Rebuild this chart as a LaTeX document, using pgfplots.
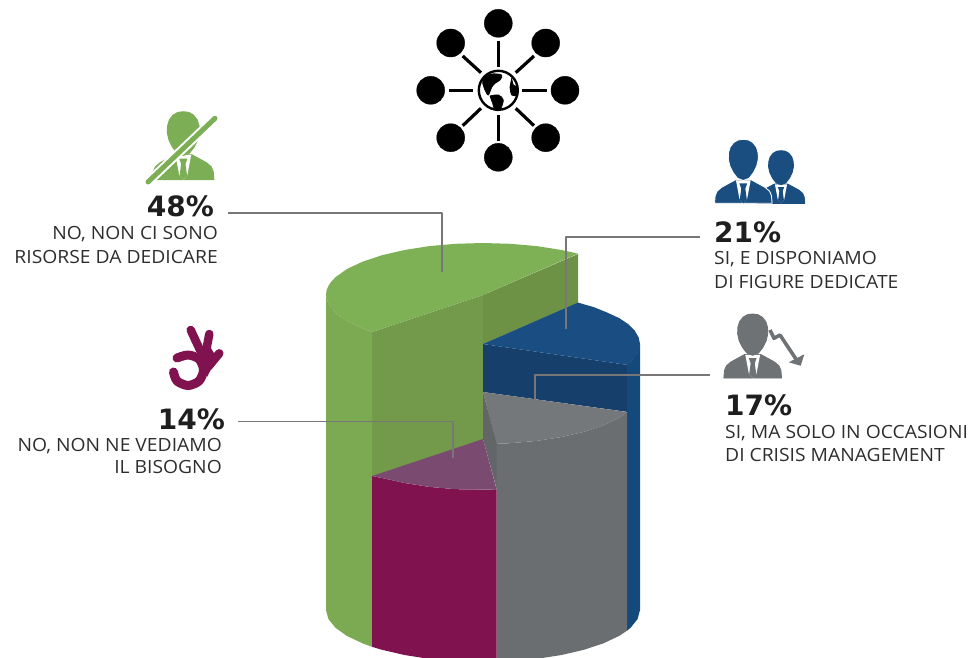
\documentclass[border=0pt]{standalone}
\usepackage{pgfplots}
\usepackage{pgfplotstable}
\usepackage{fontspec}
\setmainfont[FakeStretch=1.06]{Open Sans}
\newfontfamily\pctfont{DejaVu Sans}
\pgfplotsset{compat=1.18}

\definecolor{gtop}{HTML}{7EB055}
\definecolor{gouter}{HTML}{7BAA53}
\definecolor{ginnerA}{HTML}{739A4A}
\definecolor{ginnerB}{HTML}{6E9245}
\definecolor{btop}{HTML}{1A4D81}
\definecolor{bwall}{HTML}{173F6C}
\definecolor{bouter}{HTML}{13497B}
\definecolor{gytop}{HTML}{74787A}
\definecolor{gyfront}{HTML}{6A6E70}
\definecolor{gyside}{HTML}{626668}
\definecolor{ptop}{HTML}{7A4A70}
\definecolor{pfront}{HTML}{80134F}
\definecolor{leader}{HTML}{777777}
\definecolor{ink}{HTML}{2E2E2E}
\definecolor{pctink}{HTML}{1E1E1E}
\definecolor{iconblue}{HTML}{1B4E80}
\definecolor{icongray}{HTML}{6E7274}
\definecolor{icongreen}{HTML}{7CAE56}

% Person silhouette: head top at (0,0), feet of the bust at y=1, unit = height
\pgfplotstableread[row sep=\\]{
x y\\ 0 0\\ .08 .01\\ .15 .05\\ .205 .12\\ .232 .21\\ .235 .31\\ .21 .42\\ .16 .52\\ .09 .61\\ 0 .645\\
-.09 .61\\ -.16 .52\\ -.21 .42\\ -.235 .31\\ -.232 .21\\ -.205 .12\\ -.15 .05\\ -.08 .01\\
}\personhead
\pgfplotstableread[row sep=\\]{
x y\\ -.45 1\\ -.44 .88\\ -.41 .81\\ -.34 .75\\ -.13 .635\\ .13 .635\\ .34 .75\\ .41 .81\\ .44 .88\\ .45 1\\
}\personbody
\pgfplotstableread[row sep=\\]{
x y\\ -.115 .64\\ .115 .64\\ .06 .93\\ 0 1\\ -.06 .93\\
}\personshirt
\pgfplotstableread[row sep=\\]{
x y\\ -.06 .69\\ .06 .69\\ .032 .77\\ .055 .94\\ 0 1\\ -.055 .94\\ -.032 .77\\
}\persontie

% #1 centre x, #2 top y, #3 height, #4 colour, #5 body outline colour
\newcommand{\person}[5]{%
  \addplot[fill=#4,draw=#5,line width=0.9pt] table[x expr=\thisrow{x}*#3+#1,y expr=\thisrow{y}*#3+#2]{\personbody} -- cycle;
  \addplot[fill=white,draw=none] table[x expr=\thisrow{x}*#3+#1,y expr=\thisrow{y}*#3+#2]{\personshirt} -- cycle;
  \addplot[fill=#4,draw=none] table[x expr=\thisrow{x}*#3+#1,y expr=\thisrow{y}*#3+#2]{\persontie} -- cycle;
  \addplot[fill=#4,draw=#5,line width=0.9pt] table[x expr=\thisrow{x}*#3+#1,y expr=\thisrow{y}*#3+#2]{\personhead} -- cycle;
}
\newcommand{\pct}[1]{\pctfont\fontsize{28}{32}\selectfont\bfseries #1}
\newcommand{\capt}[1]{\fontsize{18.2}{22}\selectfont #1}

\begin{document}
\begin{tikzpicture}
\useasboundingbox (0,0) rectangle (970pt,658pt);
\begin{axis}[
  at={(0,0)}, anchor=south west,
  scale only axis, width=970pt, height=658pt,
  xmin=0, xmax=970, ymin=0, ymax=658, y dir=reverse,
  hide axis, clip=true, clip mode=individual,
  every axis plot/.append style={line join=round},
]
% ---- cylinder, back to front ----
% green wedge: inner walls, outer wall, top
\addplot[fill=ginnerA,draw=none] coordinates {(372,332)(483,295)(483,441)(372,477)} -- cycle;
\addplot[fill=ginnerB,draw=none] coordinates {(483,295)(578,254)(578,303)(483,344)} -- cycle;
\addplot[fill=gouter,draw=none] coordinates {(326,295)(328.4,304)(335.5,312.8)(347,321)(362.7,328.4)(372,332)
  (372,646.8)(362.7,643.4)(347,636)(335.5,627.8)(328.4,619)(326,610)} -- cycle;
\addplot[fill=gtop,draw=none] coordinates {(326,295)(326.6,290)(328.4,286)(331.4,281.5)(335.5,277.2)(347,269)(362.7,261.6)(382,255.2)
  (404.5,250)(429.3,246.1)(455.7,243.8)(483,243)(510.3,243.8)(536.7,246.1)(561.5,250)(578,253.6)
  (483,295)(372,332)(362.7,328.4)(347,321)(335.5,312.8)(328.4,304)} -- cycle;
% blue wedge
\addplot[fill=bwall,draw=none] coordinates {(483,344)(628,365)(628,412)(483,392)} -- cycle;
\addplot[fill=bouter,draw=none] coordinates {(627,364)(630.5,361.8)(637.6,353)(640,344)(640,610)(637.6,619)(630.5,627.8)(627,630.7)} -- cycle;
\addplot[fill=btop,draw=none] coordinates {(483,344)(578,302.6)(594,307.2)(607,312.5)(619,318)(628,324)(634.6,330.5)(638.8,337.7)(640,344)
  (639.4,349)(637.6,353)(634.6,357.5)(630.5,361.8)(628,365)} -- cycle;
% grey wedge
\addplot[fill=gyside,draw=none] coordinates {(483,392)(497,443)(497,490)(483,439)} -- cycle;
\addplot[fill=gyfront,draw=none] coordinates {(496.7,443.8)(510.3,443.2)(536.7,440.9)(561.5,437)(584,431.8)(603.3,425.4)(619,418)(627,412)
  (627,630.7)(619,636)(603.3,643.4)(584,649.8)(561.5,655)(536.7,658.9)(510.3,661.2)(496.7,661.8)} -- cycle;
\addplot[fill=gytop,draw=none] coordinates {(483,392)(627,412)(619,418)(603.3,425.4)(584,431.8)(561.5,437)(536.7,440.9)(510.3,443.2)(496.7,443.8)} -- cycle;
% purple wedge
\addplot[fill=pfront,draw=none] coordinates {(372,476)(382,478)(404.5,483)(429.3,486.9)(455.7,489.2)(496.7,489.8)
  (496.7,661.8)(455.7,661.2)(429.3,658.9)(404.5,655)(382,649.8)(372,646.8)} -- cycle;
\addplot[fill=ptop,draw=none] coordinates {(372,476)(483,439)(496.7,489.8)(455.7,489.2)(429.3,486.9)(404.5,483)(382,478)} -- cycle;

% ---- leader lines ----
\addplot[leader,line width=1.1pt] coordinates {(228,213)(442,213)(442,272)};
\addplot[leader,line width=1.1pt] coordinates {(700,237)(566,237)(566,329)};
\addplot[leader,line width=1.1pt] coordinates {(710,375)(535,375)(535,415)};
\addplot[leader,line width=1.1pt] coordinates {(238,421.5)(453,421.5)(453,458)};

% ---- network icon ----
\addplot[black,line width=3.2pt] coordinates {(498.3,40.7)(498.3,66.7)};
\addplot[black,line width=3.2pt] coordinates {(498.3,115)(498.3,140.7)};
\addplot[black,line width=3.2pt] coordinates {(449,90.3)(473.3,90.3)};
\addplot[black,line width=3.2pt] coordinates {(522.3,90.3)(547.3,90.3)};
\addplot[black,line width=3.2pt] coordinates {(515.7,72.7)(534,56)};
\addplot[black,line width=3.2pt] coordinates {(481,72.7)(462.7,56)};
\addplot[black,line width=3.2pt] coordinates {(515.7,108.3)(534,125.7)};
\addplot[black,line width=3.2pt] coordinates {(481,108.3)(462.7,125.7)};
\addplot[only marks,mark=*,mark size=14pt,mark options={fill=black,draw=none}] coordinates {
  (498.3,23.3)(498.3,157.3)(430.7,90.3)(565,90.3)(450.7,43)(545.7,43)(450.7,137.7)(545.7,137.7)};
\addplot[only marks,mark=o,mark size=19.5pt,mark options={draw=black,line width=2.4pt}] coordinates {(498.3,90.3)};
\addplot[fill=black,draw=black,line width=0.8pt,smooth] coordinates {(483.3,78.3)(491.7,74)(501.7,75)(500,80)(495,83.3)(491.7,87.3)(488.3,95)(485,90)(482.7,83.3)} -- cycle;
\addplot[fill=black,draw=black,line width=0.8pt,smooth] coordinates {(490,96)(498.3,95)(503.3,100)(500,110)(495,110)(492.7,103.3)} -- cycle;
\addplot[fill=black,draw=black,line width=0.8pt,smooth] coordinates {(511.7,78.3)(513.3,85)(517.3,87.3)(517.3,95)(511.7,95)(510,87)} -- cycle;

% ---- person icons ----
\person{183.3}{111.7}{68}{icongreen}{icongreen}
\addplot[white,line width=9pt] coordinates {(146.7,183.3)(215,118.3)};
\addplot[icongreen,line width=5pt,line cap=round] coordinates {(148,182)(215,118.3)};

\person{781}{150.7}{52.7}{iconblue}{iconblue}
\person{743.3}{139.3}{64}{iconblue}{white}

\person{752.7}{314}{64}{icongray}{icongray}
\addplot[icongray,line width=3.6pt] coordinates {(770,330)(774,338.3)(780,335)(797.3,361)};
\addplot[fill=icongray,draw=none] coordinates {(788.7,362.3)(804.3,354.3)(800.7,365.7)} -- cycle;

% ---- OK hand icon ----
\addplot[fill=pfront,draw=none] coordinates {(196,350)(209,345)(217,358)(207,377)(203,365)} -- cycle;
\addplot[pfront,line width=9pt,line cap=round,smooth] coordinates {(173.5,372)(177,381)(188,385.5)(199,381)(203.5,370)(199,359)(188,355)(177,358)};
\addplot[pfront,line width=8.5pt,line cap=round] coordinates {(200,350)(190.7,330)};
\addplot[pfront,line width=8.5pt,line cap=round] coordinates {(205,356.7)(209.3,334)};
\addplot[pfront,line width=8.5pt,line cap=round] coordinates {(208.3,366.7)(219.3,353.3)};

% ---- labels ----
\node[anchor=base east,inner sep=0,text=pctink] at (axis cs:214,217) {\pct{48\%}};
\node[anchor=base east,inner sep=0,text=ink] at (axis cs:218,240) {\capt{NO, NON CI SONO}};
\node[anchor=base east,inner sep=0,text=ink] at (axis cs:218,263) {\capt{RISORSE DA DEDICARE}};
\node[anchor=base west,inner sep=0,text=pctink] at (axis cs:714,243) {\pct{21\%}};
\node[anchor=base west,inner sep=0,text=ink] at (axis cs:714,265) {\capt{SI, E DISPONIAMO}};
\node[anchor=base west,inner sep=0,text=ink] at (axis cs:714,288) {\capt{DI FIGURE DEDICATE}};
\node[anchor=base west,inner sep=0,text=pctink] at (axis cs:725,415) {\pct{17\%}};
\node[anchor=base west,inner sep=0,text=ink] at (axis cs:725,438) {\capt{SI, MA SOLO IN OCCASIONI}};
\node[anchor=base west,inner sep=0,text=ink] at (axis cs:725,461) {\capt{DI CRISIS MANAGEMENT}};
\node[anchor=base east,inner sep=0,text=pctink] at (axis cs:225,429) {\pct{14\%}};
\node[anchor=base east,inner sep=0,text=ink] at (axis cs:222,451) {\capt{NO, NON NE VEDIAMO}};
\node[anchor=base east,inner sep=0,text=ink] at (axis cs:222,473) {\capt{IL BISOGNO}};
\end{axis}
\end{tikzpicture}
\end{document}
